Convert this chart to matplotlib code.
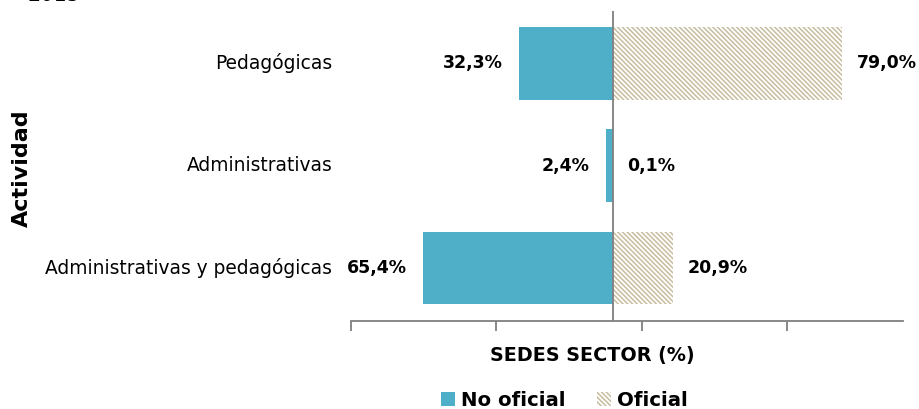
import matplotlib
matplotlib.use("Agg")
import matplotlib.pyplot as plt
from matplotlib.patches import Patch

plt.rcParams["font.family"] = ["DejaVu Sans"]
plt.rcParams["hatch.linewidth"] = 1.1

categories = ["Pedagógicas", "Administrativas", "Administrativas y pedagógicas"]
no_oficial = [32.3, 2.4, 65.4]
oficial = [79.0, 0.1, 20.9]
ticks = [-90, -40, 10, 60]

BLUE = "#50afc8"
TAN = "#c6bc9e"
GRAY = "#7f7f7f"
HATCH = "\\" * 7

fig = plt.figure(figsize=(9.19, 4.09), dpi=100)
ax = fig.add_axes([0.382, 0.215, 0.6006, 0.758])

y = list(range(len(categories)))
ax.barh(y, [-v for v in no_oficial], height=0.71, color=BLUE, linewidth=0)
ax.barh(y, oficial, height=0.71, facecolor="white", edgecolor=TAN,
        hatch=HATCH, linewidth=0)

for yi, v in zip(y, no_oficial):
    ax.text(-v - 5.5, yi, f"{v:.1f}%".replace(".", ","), ha="right", va="center",
            fontsize=12.5, fontweight="bold")
for yi, v in zip(y, oficial):
    ax.text(v + 5, yi, f"{v:.1f}%".replace(".", ","), ha="left", va="center",
            fontsize=12.5, fontweight="bold")

ax.set_xlim(-90, 100)
ax.set_ylim(2.52, -0.51)
ax.axvline(0, color=GRAY, linewidth=1.3)

for s in ["top", "right", "left"]:
    ax.spines[s].set_visible(False)
ax.spines["bottom"].set_color(GRAY)
ax.spines["bottom"].set_linewidth(1.3)
ax.set_xticks(ticks)
ax.set_xticklabels([])
ax.tick_params(axis="x", direction="out", length=7, width=1.3, color=GRAY)
ax.set_yticks([])

for yi, c in zip(y, categories):
    ax.text(-96.5, yi, c, ha="right", va="center", fontsize=13.4,
            transform=ax.transData, clip_on=False)

fig.text(0.024, 0.59, "Actividad", rotation=90, ha="center", va="center",
         fontsize=16, fontweight="bold")
fig.text(0.644, 0.132, "SEDES SECTOR (%)", ha="center", va="center",
         fontsize=13.8, fontweight="bold")
fig.text(0.03, 0.988, "2015", ha="left", va="bottom", fontsize=15)

handles = [Patch(facecolor=BLUE, linewidth=0),
           Patch(facecolor="white", edgecolor=TAN, hatch=HATCH, linewidth=0)]
fig.legend(handles, ["No oficial", "Oficial"], loc="center", ncol=2,
           bbox_to_anchor=(0.614, 0.022), frameon=False, handlelength=0.7,
           handleheight=0.7, handletextpad=0.3, columnspacing=1.6,
           prop={"size": 14.2, "weight": "bold"})

fig.savefig("out.png", dpi=100)
